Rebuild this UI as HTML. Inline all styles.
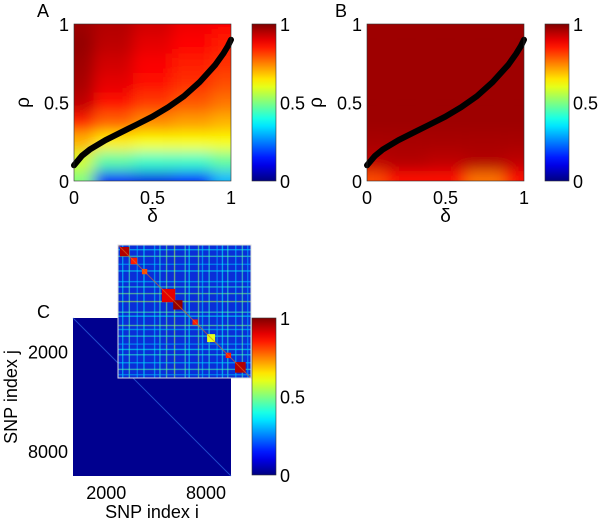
<!DOCTYPE html>
<html><head><meta charset="utf-8"><style>
html,body{margin:0;padding:0;background:#fff;}
svg{display:block;font-family:"Liberation Sans",sans-serif;}
</style></head><body>
<svg id="fig" width="600" height="522" viewBox="0 0 600 522" xmlns="http://www.w3.org/2000/svg">
<defs>
<filter id="blurA" x="-0.1" y="-0.1" width="1.2" height="1.2"><feGaussianBlur stdDeviation="7"/></filter>
<clipPath id="clipA"><rect x="74" y="24" width="157" height="157"/></clipPath>
<clipPath id="clipB"><rect x="367" y="24" width="157" height="157"/></clipPath>
</defs>
<g id="root"></g>
</svg>
<script>
// ---- data ----
const curveDelta = [0,0.05,0.1,0.2,0.3,0.4,0.5,0.6,0.7,0.8,0.9,0.95,0.98,1];
const curveRho   = [0.1,0.16,0.2,0.26,0.31,0.36,0.41,0.47,0.54,0.63,0.74,0.81,0.86,0.9];
const heatA = [
 [0.97,0.95,0.92,0.89,0.87],
 [0.98,0.94,0.90,0.87,0.85],
 [0.97,0.92,0.88,0.85,0.83],
 [0.96,0.90,0.86,0.83,0.80],
 [0.94,0.86,0.82,0.79,0.76],
 [0.85,0.78,0.74,0.72,0.70],
 [0.70,0.64,0.62,0.62,0.62],
 [0.58,0.46,0.43,0.43,0.47],
 [0.50,0.12,0.10,0.13,0.30]
];
const heatB = [
 [0.97,0.97,0.97,0.97,0.97],
 [0.97,0.97,0.97,0.97,0.97],
 [0.97,0.97,0.97,0.97,0.97],
 [0.97,0.97,0.97,0.97,0.97],
 [0.97,0.97,0.97,0.97,0.97],
 [0.97,0.97,0.97,0.97,0.97],
 [0.96,0.96,0.96,0.96,0.96],
 [0.94,0.95,0.94,0.95,0.94],
 [0.80,0.86,0.86,0.76,0.86]
];
const tickVals = [0,0.5,1];
const tickLabels = ["0","0.5","1"];
const snpTicks = [2000,8000];
const snpMax = 9500;
const insetBlocks = [[0.05,0.07,0.95],[0.12,0.05,0.85],[0.2,0.04,0.8],[0.38,0.1,0.9],[0.45,0.07,0.98],[0.58,0.04,0.85],[0.7,0.06,0.6],[0.83,0.04,0.85],[0.92,0.08,0.95]];
const insetLines = [0.03,0.08,0.14,0.19,0.27,0.31,0.36,0.42,0.5,0.53,0.6,0.63,0.68,0.74,0.78,0.82,0.88,0.93,0.97];
const insetLineVals = [0.35,0.45,0.3,0.38,0.33,0.42,0.5,0.55,0.45,0.38,0.5,0.33,0.42,0.3,0.38,0.42,0.33,0.45,0.3];

// ---- helpers ----
const NS="http://www.w3.org/2000/svg";
const root=document.getElementById('root');
function jet(v){v=Math.max(0,Math.min(1,v));
 const f=x=>Math.max(0,Math.min(1,x));
 const r=f(1.5-Math.abs(4*v-3)),g=f(1.5-Math.abs(4*v-2)),b=f(1.5-Math.abs(4*v-1));
 return `rgb(${Math.round(r*255)},${Math.round(g*255)},${Math.round(b*255)})`;}
function mk(tag,attrs,parent){const e=document.createElementNS(NS,tag);for(const k in attrs)e.setAttribute(k,attrs[k]);(parent||root).appendChild(e);return e;}
function txt(s,x,y,anchor,size,parent){const t=mk('text',{x:x,y:y,'text-anchor':anchor,'font-size':size||18,fill:'#000'},parent);t.textContent=s;return t;}

function heatPanel(px,py,sz,grid,clip,name){
 const g=mk('g',{'clip-path':`url(#${clip})`});
 
 
 mk('rect',{x:px,y:py,width:sz,height:sz,fill:jet(grid[0][0])},g);
 const inner=mk('g',{filter:'url(#blurA)'},g);
 const rows=grid.length, cols=grid[0].length;
 const xs=v=>px+v*sz, ys=v=>py+sz-v*sz;
 for(let r=0;r<rows;r++)for(let c=0;c<cols;c++){
  const cw=sz/(cols-1), ch=sz/(rows-1);
  let x0=px+c*cw-cw/2, y0=py+r*ch-ch/2, w=cw, h=ch;
  if(c===0){x0-=20;w+=20;} if(c===cols-1){w+=20;}
  if(r===0){y0-=20;h+=20;} if(r===rows-1){h+=20;}
  const cell=mk('rect',{x:x0,y:y0,width:w,height:h,fill:jet(grid[r][c])},inner);
  
  
 }
 let d='';curveDelta.forEach((dv,i)=>{d+=(i?'L':'M')+xs(dv).toFixed(1)+','+ys(curveRho[i]).toFixed(1);});
 const ln=mk('path',{d:d,fill:'none',stroke:'#000','stroke-width':6,'stroke-linecap':'round','stroke-linejoin':'round'});
 
 
 const fr=mk('rect',{x:px,y:py,width:sz,height:sz,fill:'none',stroke:'#333','stroke-width':0.6});
 
 
 tickVals.forEach((v,i)=>{
  const yl=txt(tickLabels[i],px-5,ys(v)+7,'end');
  
  
  const xl=txt(tickLabels[i],xs(v),py+sz+23,'middle');
  
  
 });
 const xt=txt('δ',px+sz/2,py+sz+41,'middle',19);
 
 
 const yt=txt('ρ',0,0,'middle',19);
 yt.setAttribute('transform',`translate(${px-45},${py+sz/2}) rotate(-90)`);
 
 
}
function colorbar(x,y,w,h,name){
 const id='cb'+name;
 const defs=document.querySelector('defs');
 const lg=mk('linearGradient',{id:id,x1:0,y1:1,x2:0,y2:0},defs);
 for(let i=0;i<=20;i++)mk('stop',{offset:i/20,'stop-color':jet(i/20)},lg);
 const r=mk('rect',{x:x,y:y,width:w,height:h,fill:`url(#${id})`,stroke:'#333','stroke-width':0.6});
 
 
 tickVals.forEach((v,i)=>{
  const t=txt(tickLabels[i],x+w+4,y+h-v*h+7,'start');
  
  
 });
}

// ---- panel A ----
heatPanel(74,24,157,heatA,'clipA','panel-a');
colorbar(252,24,24,157,'panel-a');
const la=txt('A',37,17,'start',18);
// ---- panel B ----
heatPanel(367,24,157,heatB,'clipB','panel-b');
colorbar(545,24,24,157,'panel-b');
const lb=txt('B',335,17,'start',18);

// ---- panel C ----
const cx=73,cy=318,cs=158;
const sx=v=>cx+v/snpMax*cs;
const sy=v=>cy+v/snpMax*cs;
const bg=mk('rect',{x:cx,y:cy,width:cs,height:cs,fill:'#00008f'});

const diag=mk('line',{x1:cx,y1:cy,x2:cx+cs,y2:cy+cs,stroke:'#2a5cd8','stroke-width':1,opacity:0.8});

snpTicks.forEach(v=>{
 const a=txt(String(v),cx-5,sy(v)+7,'end');
 const b=txt(String(v),sx(v),cy+cs+23,'middle');
});
const cxt=txt('SNP index i',cx+cs/2,cy+cs+42,'middle',18);
const cyt=txt('SNP index j',0,0,'middle',18);cyt.setAttribute('transform',`translate(17,${cy+cs/2}) rotate(-90)`);

const lc=txt('C',37,318,'start',18);
colorbar(252,318,24,157,'panel-c');

// inset
const ix=118,iy=245,is=133;
const ig=mk('g',{});

mk('rect',{x:ix,y:iy,width:is,height:is,fill:'#0a2ed8'},ig);
insetLines.forEach((p,i)=>{
 mk('rect',{x:ix+p*is,y:iy,width:1.4,height:is,fill:jet(insetLineVals[i]),opacity:0.55},ig);
 mk('rect',{x:ix,y:iy+p*is,width:is,height:1.4,fill:jet(insetLineVals[i]),opacity:0.55},ig);
});
insetBlocks.forEach(b=>{
 const bl=mk('rect',{x:ix+(b[0]-b[1]/2)*is,y:iy+(b[0]-b[1]/2)*is,width:b[1]*is,height:b[1]*is,fill:jet(b[2])},ig);
 
});
mk('line',{x1:ix,y1:iy,x2:ix+is,y2:iy+is,stroke:'#e07020','stroke-width':1,opacity:0.6},ig);
mk('rect',{x:ix,y:iy,width:is,height:is,fill:'none',stroke:'#ddd','stroke-width':1},ig);
</script>
</body></html>
